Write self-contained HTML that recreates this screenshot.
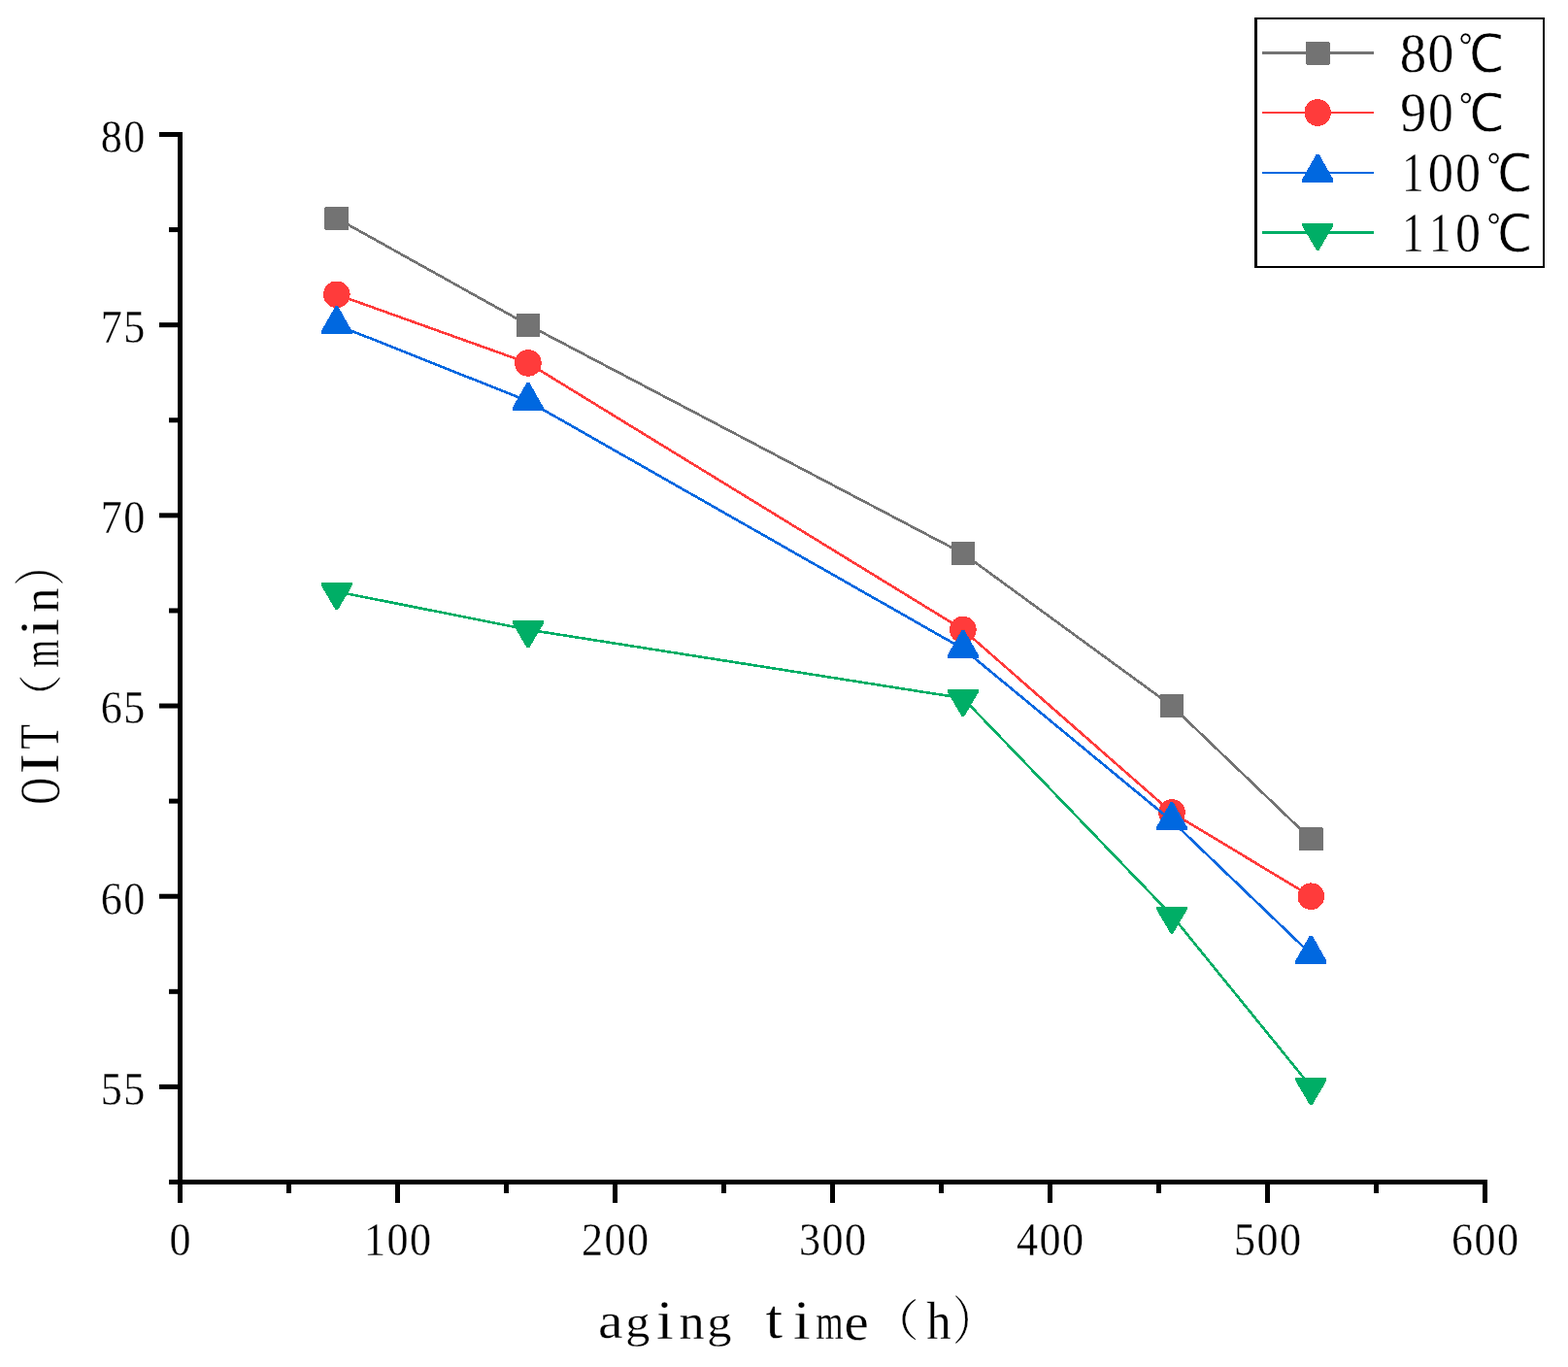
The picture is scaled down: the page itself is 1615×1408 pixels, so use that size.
<!DOCTYPE html>
<html><head><meta charset="utf-8"><title>OIT vs aging time</title>
<style>html,body{margin:0;padding:0;background:#fff;width:1615px;height:1408px;overflow:hidden}svg{display:block}</style>
</head><body>
<svg width="1615" height="1408" viewBox="0 0 1615 1408" font-family='"Liberation Serif", "Noto Serif CJK SC", serif'>
<style>text{stroke:#fff;stroke-width:0.3px;vector-effect:non-scaling-stroke}</style>
<rect width="1615" height="1408" fill="#fff"/>
<g shape-rendering="crispEdges"><polyline points="346.78,224.82 543.90,334.68 991.90,570.10 1206.94,727.04 1350.30,864.37" fill="none" stroke="#737373" stroke-width="2.6" stroke-linejoin="miter"/><rect x="334.48" y="212.82" width="24.6" height="24" rx="1" fill="#737373"/><rect x="531.60" y="322.68" width="24.6" height="24" rx="1" fill="#737373"/><rect x="979.60" y="558.10" width="24.6" height="24" rx="1" fill="#737373"/><rect x="1194.64" y="715.04" width="24.6" height="24" rx="1" fill="#737373"/><rect x="1338.00" y="852.37" width="24.6" height="24" rx="1" fill="#737373"/></g>
<g shape-rendering="crispEdges"><polyline points="346.78,303.29 543.90,373.92 991.90,648.57 1206.94,836.90 1350.30,923.22" fill="none" stroke="#FF3B3B" stroke-width="2.6" stroke-linejoin="miter"/><circle cx="346.78" cy="303.29" r="13.8" fill="#FF3B3B"/><circle cx="543.90" cy="373.92" r="13.8" fill="#FF3B3B"/><circle cx="991.90" cy="648.57" r="13.8" fill="#FF3B3B"/><circle cx="1206.94" cy="836.90" r="13.8" fill="#FF3B3B"/><circle cx="1350.30" cy="923.22" r="13.8" fill="#FF3B3B"/></g>
<g shape-rendering="crispEdges"><polyline points="346.78,334.68 543.90,413.15 991.90,668.19 1206.94,845.53 1350.30,982.86" fill="none" stroke="#0068E0" stroke-width="2.6" stroke-linejoin="miter"/><polygon points="345.48,315.35 348.08,315.35 362.78,341.35 362.78,344.35 330.78,344.35 330.78,341.35" fill="#0068E0"/><polygon points="542.60,393.82 545.20,393.82 559.90,419.82 559.90,422.82 527.90,422.82 527.90,419.82" fill="#0068E0"/><polygon points="990.60,648.85 993.20,648.85 1007.90,674.85 1007.90,677.85 975.90,677.85 975.90,674.85" fill="#0068E0"/><polygon points="1205.64,826.20 1208.24,826.20 1222.94,852.20 1222.94,855.20 1190.94,855.20 1190.94,852.20" fill="#0068E0"/><polygon points="1349.00,963.53 1351.60,963.53 1366.30,989.53 1366.30,992.53 1334.30,992.53 1334.30,989.53" fill="#0068E0"/></g>
<g shape-rendering="crispEdges"><polyline points="346.78,609.33 543.90,648.57 991.90,719.19 1206.94,942.84 1350.30,1119.40" fill="none" stroke="#00AE66" stroke-width="2.6" stroke-linejoin="miter"/><polygon points="330.78,600.00 362.78,600.00 362.78,603.00 348.08,628.00 345.48,628.00 330.78,603.00" fill="#00AE66"/><polygon points="527.90,639.23 559.90,639.23 559.90,642.23 545.20,667.23 542.60,667.23 527.90,642.23" fill="#00AE66"/><polygon points="975.90,709.86 1007.90,709.86 1007.90,712.86 993.20,737.86 990.60,737.86 975.90,712.86" fill="#00AE66"/><polygon points="1190.94,933.50 1222.94,933.50 1222.94,936.50 1208.24,961.50 1205.64,961.50 1190.94,936.50" fill="#00AE66"/><polygon points="1334.30,1110.07 1366.30,1110.07 1366.30,1113.07 1351.60,1138.07 1349.00,1138.07 1334.30,1113.07" fill="#00AE66"/></g>
<g fill="#000"><rect x="183" y="136" width="5" height="1084"/><rect x="183" y="1215" width="1349" height="5"/><rect x="164" y="136.00" width="19" height="5"/><rect x="164" y="332.18" width="19" height="5"/><rect x="164" y="528.36" width="19" height="5"/><rect x="164" y="724.54" width="19" height="5"/><rect x="164" y="920.72" width="19" height="5"/><rect x="164" y="1116.90" width="19" height="5"/><rect x="174" y="234.09" width="9" height="5"/><rect x="174" y="430.27" width="9" height="5"/><rect x="174" y="626.45" width="9" height="5"/><rect x="174" y="822.63" width="9" height="5"/><rect x="174" y="1018.81" width="9" height="5"/><rect x="174" y="1214.99" width="9" height="5"/><rect x="183.00" y="1220" width="5" height="19"/><rect x="407.00" y="1220" width="5" height="19"/><rect x="631.00" y="1220" width="5" height="19"/><rect x="855.00" y="1220" width="5" height="19"/><rect x="1079.00" y="1220" width="5" height="19"/><rect x="1303.00" y="1220" width="5" height="19"/><rect x="1527.00" y="1220" width="5" height="19"/><rect x="295.00" y="1220" width="5" height="9"/><rect x="519.00" y="1220" width="5" height="9"/><rect x="743.00" y="1220" width="5" height="9"/><rect x="967.00" y="1220" width="5" height="9"/><rect x="1191.00" y="1220" width="5" height="9"/><rect x="1415.00" y="1220" width="5" height="9"/></g>
<g font-size="48"><text transform="translate(114.75,156.90) scale(0.92,1)" text-anchor="middle">8</text><text transform="translate(138.25,156.90) scale(0.92,1)" text-anchor="middle">0</text><text transform="translate(114.75,353.08) scale(0.92,1)" text-anchor="middle">7</text><text transform="translate(138.25,353.08) scale(0.92,1)" text-anchor="middle">5</text><text transform="translate(114.75,549.26) scale(0.92,1)" text-anchor="middle">7</text><text transform="translate(138.25,549.26) scale(0.92,1)" text-anchor="middle">0</text><text transform="translate(114.75,745.44) scale(0.92,1)" text-anchor="middle">6</text><text transform="translate(138.25,745.44) scale(0.92,1)" text-anchor="middle">5</text><text transform="translate(114.75,941.62) scale(0.92,1)" text-anchor="middle">6</text><text transform="translate(138.25,941.62) scale(0.92,1)" text-anchor="middle">0</text><text transform="translate(114.75,1137.80) scale(0.92,1)" text-anchor="middle">5</text><text transform="translate(138.25,1137.80) scale(0.92,1)" text-anchor="middle">5</text><text transform="translate(185.50,1292.60) scale(0.92,1)" text-anchor="middle">0</text><text transform="translate(386.00,1292.60) scale(0.92,1)" text-anchor="middle">1</text><text transform="translate(409.50,1292.60) scale(0.92,1)" text-anchor="middle">0</text><text transform="translate(433.00,1292.60) scale(0.92,1)" text-anchor="middle">0</text><text transform="translate(610.00,1292.60) scale(0.92,1)" text-anchor="middle">2</text><text transform="translate(633.50,1292.60) scale(0.92,1)" text-anchor="middle">0</text><text transform="translate(657.00,1292.60) scale(0.92,1)" text-anchor="middle">0</text><text transform="translate(834.00,1292.60) scale(0.92,1)" text-anchor="middle">3</text><text transform="translate(857.50,1292.60) scale(0.92,1)" text-anchor="middle">0</text><text transform="translate(881.00,1292.60) scale(0.92,1)" text-anchor="middle">0</text><text transform="translate(1058.00,1292.60) scale(0.92,1)" text-anchor="middle">4</text><text transform="translate(1081.50,1292.60) scale(0.92,1)" text-anchor="middle">0</text><text transform="translate(1105.00,1292.60) scale(0.92,1)" text-anchor="middle">0</text><text transform="translate(1282.00,1292.60) scale(0.92,1)" text-anchor="middle">5</text><text transform="translate(1305.50,1292.60) scale(0.92,1)" text-anchor="middle">0</text><text transform="translate(1329.00,1292.60) scale(0.92,1)" text-anchor="middle">0</text><text transform="translate(1506.00,1292.60) scale(0.92,1)" text-anchor="middle">6</text><text transform="translate(1529.50,1292.60) scale(0.92,1)" text-anchor="middle">0</text><text transform="translate(1553.00,1292.60) scale(0.92,1)" text-anchor="middle">0</text></g>
<g font-size="100"><text transform="matrix(0.57521 0 0 0.52292 616.076 1378.377)">a</text><text transform="matrix(0.50199 0 0 0.45636 644.235 1377.188)">g</text><text transform="matrix(0.63426 0 0 0.57660 676.020 1378.900)">i</text><text transform="matrix(0.52324 0 0 0.53830 699.523 1379.000)">n</text><text transform="matrix(0.50351 0 0 0.45773 728.296 1377.159)">g</text><text transform="matrix(0.63790 0 0 0.57991 788.540 1378.420)">t</text><text transform="matrix(0.63592 0 0 0.57811 817.097 1379.000)">i</text><text transform="matrix(0.36498 0 0 0.53617 840.170 1379.000)">m</text><text transform="matrix(0.57027 0 0 0.54792 869.619 1379.552)">e</text><text transform="matrix(0.49647 0 0 0.45134 896.993 1377.051)" font-family='"Liberation Serif", "Noto Serif CJK SC", serif'>（</text><text transform="matrix(0.50681 0 0 0.55971 954.193 1378.900)">h</text><text transform="matrix(0.45913 0 0 0.53476 981.030 1380.321)" font-family='"Liberation Serif", "Noto Serif CJK SC", serif'>）</text></g>
<g font-size="100"><text transform="matrix(0 -0.37813 0.58662 0 60.613 828.513)">O</text><text transform="matrix(0 -0.62641 0.56947 0 60.100 797.264)">I</text><text transform="matrix(0 -0.41905 0.56947 0 60.100 771.633)">T</text><text transform="matrix(0 -0.49176 0.44706 0 57.888 743.384)" font-family='"Liberation Serif", "Noto Serif CJK SC", serif'>（</text><text transform="matrix(0 -0.36902 0.54043 0 60.300 687.738)">m</text><text transform="matrix(0 -0.63592 0.57811 0 60.300 654.803)">i</text><text transform="matrix(0 -0.51243 0.54043 0 60.300 630.953)">n</text><text transform="matrix(0 -0.44870 0.53155 0 61.049 603.704)" font-family='"Liberation Serif", "Noto Serif CJK SC", serif'>）</text></g>
<rect x="1292" y="18" width="299" height="258" fill="#fff"/>
<g fill="#000"><rect x="1292" y="18" width="3" height="258"/><rect x="1589" y="18" width="2" height="258"/><rect x="1292" y="18" width="299" height="2"/><rect x="1292" y="274" width="299" height="2"/></g>
<rect x="1300" y="53" width="115" height="3" fill="#737373"/>
<g shape-rendering="crispEdges"><rect x="1344.90" y="42.50" width="24.6" height="24" rx="1" fill="#737373"/></g>
<rect x="1300" y="115" width="115" height="2" fill="#FF3B3B"/>
<g shape-rendering="crispEdges"><circle cx="1357.20" cy="116.00" r="13.8" fill="#FF3B3B"/></g>
<rect x="1300" y="177" width="115" height="2" fill="#0068E0"/>
<g shape-rendering="crispEdges"><polygon points="1355.90,158.67 1358.50,158.67 1373.20,184.67 1373.20,187.67 1341.20,187.67 1341.20,184.67" fill="#0068E0"/></g>
<rect x="1300" y="238" width="115" height="3" fill="#00AE66"/>
<g shape-rendering="crispEdges"><polygon points="1341.20,229.67 1373.20,229.67 1373.20,232.67 1358.50,257.67 1355.90,257.67 1341.20,232.67" fill="#00AE66"/></g>
<g font-size="100"><text transform="matrix(0.54824 0 0 0.57333 1441.844 74.027)">8</text><text transform="matrix(0.53647 0 0 0.57333 1470.588 74.027)">0</text><text transform="matrix(0.51463 0 0 0.54079 1501.455 74.054)" font-family='"Liberation Serif", "WenQuanYi Zen Hei", sans-serif' style="stroke-width:0.7px">℃</text><text transform="matrix(0.53801 0 0 0.57993 1442.151 135.320)">9</text><text transform="matrix(0.51529 0 0 0.57778 1470.968 135.322)">0</text><text transform="matrix(0.51341 0 0 0.53684 1501.661 134.961)" font-family='"Liberation Serif", "WenQuanYi Zen Hei", sans-serif' style="stroke-width:0.7px">℃</text><text transform="matrix(0.45390 0 0 0.57727 1444.028 196.900)">1</text><text transform="matrix(0.52471 0 0 0.57778 1470.632 197.222)">0</text><text transform="matrix(0.52000 0 0 0.57778 1498.950 197.222)">0</text><text transform="matrix(0.51463 0 0 0.53684 1530.555 196.861)" font-family='"Liberation Serif", "WenQuanYi Zen Hei", sans-serif' style="stroke-width:0.7px">℃</text><text transform="matrix(0.45390 0 0 0.57424 1444.028 258.900)">1</text><text transform="matrix(0.45106 0 0 0.57424 1471.953 258.900)">1</text><text transform="matrix(0.52000 0 0 0.57185 1498.950 259.028)">0</text><text transform="matrix(0.51463 0 0 0.53553 1530.555 258.663)" font-family='"Liberation Serif", "WenQuanYi Zen Hei", sans-serif' style="stroke-width:0.7px">℃</text></g>
</svg>
</body></html>
